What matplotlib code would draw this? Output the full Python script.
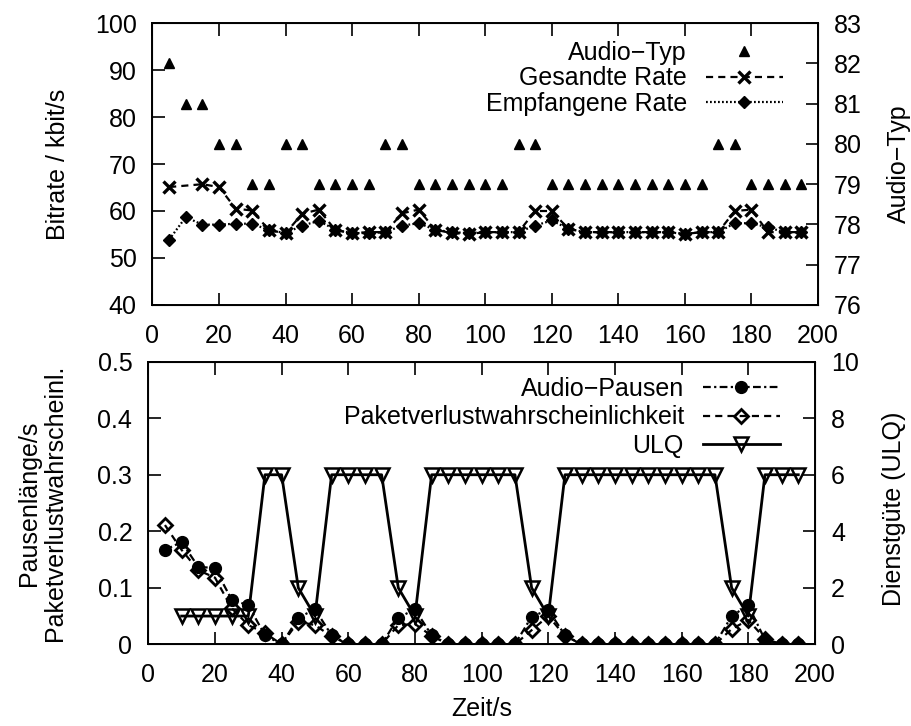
import matplotlib
matplotlib.use('Agg')
import matplotlib.pyplot as plt
from matplotlib.ticker import FuncFormatter

plt.rcParams['font.family'] = ['Liberation Sans', 'DejaVu Sans']
plt.rcParams['font.size'] = 18

#-----DATA---------------------------------------------------------------------#
t = list(range(5, 200, 5))
t_sent = [5] + list(range(15, 200, 5))      # no sample at t=10 for sent rate
t_ulq = list(range(10, 200, 5))

audio_typ = [82, 81, 81, 80, 80, 79, 79, 80, 80, 79, 79, 79, 79, 80, 80,
             79, 79, 79, 79, 79, 79, 80, 80,
             79, 79, 79, 79, 79, 79, 79, 79, 79, 79, 80, 80, 79, 79, 79, 79]
sent_rate = [65.1, 65.7, 65.1, 60.5, 60.1, 55.9, 55.3, 59.4, 60.3, 55.9,
             55.3, 55.5, 55.5, 59.5, 60.3, 56.0, 55.3, 55.1, 55.5, 55.5,
             55.5, 60.0, 60.0, 56.2, 55.5, 55.5, 55.5, 55.5, 55.5, 55.5,
             55.1, 55.5, 55.5, 60.0, 60.3, 55.5, 55.5, 55.5]
recv_rate = [53.9, 58.7, 57.1, 57.1, 57.3, 57.3, 55.9, 55.3, 56.9, 57.9,
             56.0, 55.3, 55.3, 55.5, 56.9, 57.4, 56.0, 55.5, 55.3, 55.5,
             55.5, 55.5, 56.9, 58.0, 56.2, 55.5, 55.5, 55.5, 55.5, 55.5,
             55.5, 55.1, 55.5, 55.5, 57.4, 57.4, 56.5, 55.5, 55.5]

pausen = [0.167, 0.181, 0.137, 0.135, 0.079, 0.069, 0.016, 0.0, 0.047, 0.062,
          0.016, 0.0, 0.0, 0.0, 0.047, 0.062, 0.016, 0.0, 0.0, 0.0,
          0.0, 0.0, 0.049, 0.061, 0.016, 0.0, 0.0, 0.0, 0.0, 0.0,
          0.0, 0.0, 0.0, 0.0, 0.05, 0.069, 0.008, 0.0, 0.0]
verlust = [0.211, 0.167, 0.131, 0.118, 0.064, 0.034, 0.02, 0.0, 0.04, 0.034,
           0.014, 0.0, 0.0, 0.0, 0.034, 0.036, 0.015, 0.0, 0.0, 0.0,
           0.0, 0.0, 0.025, 0.05, 0.015, 0.0, 0.0, 0.0, 0.0, 0.0,
           0.0, 0.0, 0.0, 0.0, 0.027, 0.043, 0.01, 0.0, 0.0]
ulq = [1, 1, 1, 1, 1, 6, 6, 2, 1, 6, 6, 6, 6, 2, 1, 6, 6, 6, 6, 6, 6, 2, 1,
       6, 6, 6, 6, 6, 6, 6, 6, 6, 6, 2, 1, 6, 6, 6]

xticks = list(range(0, 201, 20))

#-----FIGURE-------------------------------------------------------------------#
fig = plt.figure(figsize=(9.12, 7.26), dpi=100)
ax1 = fig.add_axes([0.1672, 0.5799, 0.7297, 0.3884])
ax2 = fig.add_axes([0.1626, 0.1125, 0.7310, 0.3893])


def style(ax, twin):
    ax.set_xlim(0, 200)
    ax.set_xticks(xticks)
    ax.tick_params(direction='in', length=9, width=1.2, top=True, right=False)
    ax.tick_params(axis='x', pad=13.5)
    ax.tick_params(axis='y', pad=11.5)
    twin.tick_params(direction='in', length=9, width=1.2, pad=11.5)
    for sp in ax.spines.values():
        sp.set_linewidth(1.4)


# top panel: bitrate + audio type
ax1t = ax1.twinx()
h_typ, = ax1t.plot(t, audio_typ, ls='none', marker='^', color='black', ms=7.5,
                   label='Audio\u2212Typ')
h_sent, = ax1.plot(t_sent, sent_rate, ls=(0, (3.2, 2.3)), lw=1.6, marker='x', ms=9,
                   mew=2.4, color='black', label='Gesandte Rate')
h_recv, = ax1.plot(t, recv_rate, ls=(0, (0.8, 1.0)), lw=1.6, marker='D', ms=6,
                   color='black', label='Empfangene Rate')
ax1.set_ylim(40, 100)
ax1.set_yticks(range(40, 101, 10))
ax1t.set_ylim(76, 83)
ax1t.set_yticks(range(76, 84))
ax1.set_ylabel('Bitrate / kbit/s')
ax1.yaxis.set_label_coords(-0.124, 0.5)
ax1t.set_ylabel('Audio\u2212Typ')
ax1t.yaxis.set_label_coords(1.1037, 0.5)
style(ax1, ax1t)
ax1t.legend(handles=[h_typ, h_sent, h_recv], loc='upper right',
            bbox_to_anchor=(0.8586, 0.9435), bbox_transform=fig.transFigure,
            frameon=False, markerfirst=False, numpoints=1, handlelength=3.1,
            borderaxespad=0, borderpad=0, labelspacing=0.05, handletextpad=0.75)

# bottom panel: pauses, loss, ULQ
ax2t = ax2.twinx()
h_p, = ax2.plot(t, pausen, ls=(0, (3.5, 1.5, 1, 1.5)), lw=1.6, marker='o', ms=8.5,
                color='black', label='Audio\u2212Pausen')
h_v, = ax2.plot(t, verlust, ls=(0, (3.2, 2.3)), lw=1.6, marker='D', ms=7, mew=2,
                mfc='none', color='black', label='Paketverlustwahrscheinlichkeit')
h_u, = ax2t.plot(t_ulq, ulq, ls='-', lw=2, marker='v', ms=9.5, mew=1.8,
                 mfc='none', color='black', label='ULQ')
ax2.set_ylim(0, 0.5)
ax2.set_yticks([0, 0.1, 0.2, 0.3, 0.4, 0.5])
ax2.yaxis.set_major_formatter(FuncFormatter(lambda v, p: '0' if v == 0 else f'{v:g}'))
ax2t.set_ylim(0, 10)
ax2t.set_yticks(range(0, 11, 2))
ax2.set_ylabel('Pausenl\u00e4nge/s\nPaketverlustwahrscheinl.', linespacing=1.1)
ax2.yaxis.set_label_coords(-0.122, 0.5)
ax2t.set_ylabel('Dienstg\u00fcte (ULQ)')
ax2t.yaxis.set_label_coords(1.1005, 0.48)
ax2.set_xlabel('Zeit/s')
ax2.xaxis.set_label_coords(0.5, -0.1865)
style(ax2, ax2t)
ax2t.legend(handles=[h_p, h_v, h_u], loc='upper right',
            bbox_to_anchor=(0.8553, 0.4807), bbox_transform=fig.transFigure,
            frameon=False, markerfirst=False, numpoints=1, handlelength=3.1,
            borderaxespad=0, borderpad=0, labelspacing=0.17, handletextpad=0.75)

fig.savefig('out.png', dpi=100)
